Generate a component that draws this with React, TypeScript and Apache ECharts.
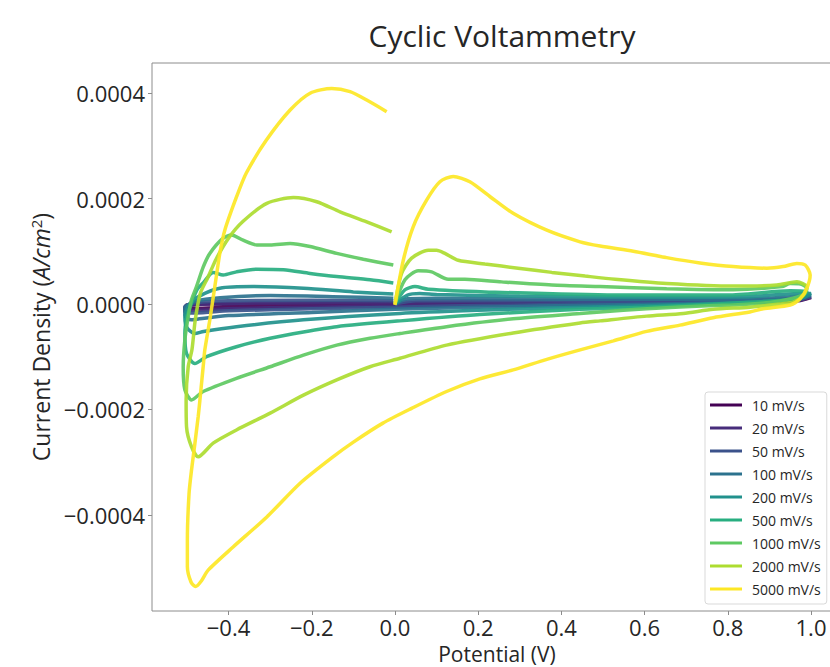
import React, { useEffect, useRef } from "react";
import * as echarts from "echarts";

// Scan-rate labels and colours (viridis)
const seriesNames = ["10 mV/s", "20 mV/s", "50 mV/s", "100 mV/s", "200 mV/s", "500 mV/s", "1000 mV/s", "2000 mV/s", "5000 mV/s"];
const seriesColors = ["#440154", "#472d7b", "#3b528b", "#2c728e", "#21918c", "#28ae80", "#5ec962", "#addc30", "#fde725"];

// Tick values
const xTicks = [-0.4, -0.2, 0.0, 0.2, 0.4, 0.6, 0.8, 1.0];
const yTicks = [-0.0004, -0.0002, 0.0, 0.0002, 0.0004];

// Current values are in units of 1e-4 A/cm^2; [potential V, current]
const UNIT = 1e-4;

const cv10 = [[0, 0], [0.05, 0.01], [0.4, 0.02], [0.8, 0.05], [0.95, 0.08], [1.0, 0.12], [0.97, 0.06], [0.8, 0.03], [0.5, 0.0], [0.2, -0.01], [0, -0.02], [-0.2, -0.04], [-0.4, -0.06], [-0.48, -0.08], [-0.505, -0.07], [-0.5, -0.02], [-0.45, 0.0], [-0.3, 0.0], [-0.004, 0.01]];
const cv20 = [[0, 0], [0.05, 0.03], [0.4, 0.04], [0.8, 0.06], [0.95, 0.09], [1.0, 0.13], [0.97, 0.07], [0.8, 0.03], [0.5, 0.0], [0.2, -0.02], [0, -0.04], [-0.2, -0.06], [-0.4, -0.09], [-0.48, -0.12], [-0.505, -0.1], [-0.5, -0.03], [-0.45, 0.0], [-0.3, 0.02], [-0.004, 0.03]];
const cv50 = [[0, 0], [0.05, 0.06], [0.4, 0.06], [0.8, 0.07], [0.95, 0.1], [1.0, 0.14], [0.97, 0.08], [0.8, 0.03], [0.5, 0.0], [0.2, -0.03], [0, -0.06], [-0.2, -0.09], [-0.4, -0.13], [-0.48, -0.17], [-0.505, -0.15], [-0.505, -0.05], [-0.48, 0.02], [-0.4, 0.06], [-0.2, 0.07], [-0.004, 0.06]];
const cv100 = [[0, 0], [0.03, 0.1], [0.1, 0.11], [0.4, 0.09], [0.7, 0.09], [0.9, 0.11], [1.0, 0.17], [0.97, 0.1], [0.8, 0.03], [0.5, -0.02], [0.2, -0.06], [0.0, -0.1], [-0.2, -0.16], [-0.4, -0.22], [-0.47, -0.28], [-0.49, -0.3], [-0.505, -0.22], [-0.505, -0.08], [-0.48, 0.05], [-0.42, 0.12], [-0.3, 0.16], [-0.15, 0.14], [-0.004, 0.11]];
const cv200 = [[0, 0], [0.03, 0.17], [0.06, 0.2], [0.1, 0.18], [0.3, 0.15], [0.6, 0.13], [0.85, 0.14], [0.97, 0.2], [1.0, 0.2], [0.98, 0.12], [0.9, 0.05], [0.7, -0.01], [0.4, -0.07], [0.2, -0.12], [0.012, -0.18], [-0.22, -0.3], [-0.381, -0.43], [-0.46, -0.52], [-0.481, -0.56], [-0.5, -0.45], [-0.505, -0.25], [-0.495, -0.02], [-0.47, 0.15], [-0.421, 0.3], [-0.341, 0.33], [-0.22, 0.3], [-0.1, 0.23], [-0.004, 0.19]];
const cv500 = [[0, 0], [0.024, 0.27], [0.048, 0.33], [0.08, 0.28], [0.216, 0.23], [0.529, 0.17], [0.8, 0.17], [0.95, 0.25], [0.99, 0.24], [0.98, 0.15], [0.95, 0.08], [0.765, 0.0], [0.6, -0.06], [0.445, -0.1], [0.204, -0.2], [0.012, -0.32], [-0.14, -0.43], [-0.22, -0.53], [-0.3, -0.65], [-0.381, -0.81], [-0.453, -1.0], [-0.481, -1.13], [-0.501, -0.94], [-0.505, -0.56], [-0.5, -0.24], [-0.49, 0.0], [-0.475, 0.28], [-0.461, 0.4], [-0.437, 0.6], [-0.413, 0.55], [-0.381, 0.61], [-0.332, 0.66], [-0.268, 0.65], [-0.204, 0.58], [-0.14, 0.52], [-0.06, 0.46], [-0.004, 0.4]];
const cv1000 = [[0, 0], [0.024, 0.46], [0.056, 0.63], [0.088, 0.61], [0.128, 0.47], [0.168, 0.47], [0.256, 0.42], [0.377, 0.36], [0.493, 0.33], [0.653, 0.29], [0.813, 0.27], [0.93, 0.33], [0.95, 0.39], [0.975, 0.38], [0.99, 0.3], [0.985, 0.2], [0.957, 0.11], [0.9, 0.03], [0.813, -0.02], [0.765, -0.03], [0.605, -0.09], [0.493, -0.15], [0.445, -0.18], [0.284, -0.28], [0.124, -0.43], [0.012, -0.56], [-0.06, -0.65], [-0.14, -0.78], [-0.22, -0.97], [-0.3, -1.19], [-0.381, -1.41], [-0.461, -1.66], [-0.489, -1.82], [-0.505, -1.63], [-0.509, -1.19], [-0.505, -0.68], [-0.497, -0.24], [-0.489, 0.08], [-0.477, 0.33], [-0.461, 0.7], [-0.445, 0.96], [-0.413, 1.25], [-0.393, 1.31], [-0.365, 1.21], [-0.332, 1.12], [-0.3, 1.12], [-0.252, 1.15], [-0.204, 1.09], [-0.14, 0.96], [-0.076, 0.85], [-0.004, 0.74]];
const cv2000 = [[0, 0], [0.016, 0.58], [0.04, 0.87], [0.08, 1.02], [0.1, 1.02], [0.12, 0.96], [0.152, 0.83], [0.216, 0.76], [0.296, 0.68], [0.377, 0.6], [0.457, 0.53], [0.529, 0.47], [0.653, 0.39], [0.813, 0.34], [0.918, 0.36], [0.966, 0.42], [0.99, 0.33], [0.982, 0.17], [0.958, 0.04], [0.925, 0.0], [0.853, -0.06], [0.765, -0.1], [0.693, -0.18], [0.605, -0.23], [0.493, -0.32], [0.445, -0.36], [0.284, -0.55], [0.124, -0.78], [0.012, -1.03], [-0.06, -1.19], [-0.14, -1.44], [-0.22, -1.73], [-0.3, -2.07], [-0.381, -2.39], [-0.437, -2.64], [-0.473, -2.9], [-0.489, -2.71], [-0.501, -2.33], [-0.502, -1.82], [-0.497, -1.19], [-0.488, -0.87], [-0.48, -0.3], [-0.468, 0.2], [-0.45, 0.5], [-0.43, 0.85], [-0.4, 1.25], [-0.365, 1.57], [-0.308, 1.91], [-0.244, 2.02], [-0.188, 1.94], [-0.132, 1.75], [-0.068, 1.56], [-0.008, 1.37]];
const cv5000 = [[0, -0.02], [0.02, 0.83], [0.044, 1.47], [0.076, 1.97], [0.108, 2.32], [0.14, 2.42], [0.18, 2.32], [0.228, 2.04], [0.284, 1.72], [0.365, 1.4], [0.445, 1.18], [0.493, 1.1], [0.573, 1.0], [0.653, 0.88], [0.733, 0.78], [0.813, 0.71], [0.894, 0.68], [0.933, 0.71], [0.966, 0.77], [0.986, 0.74], [0.998, 0.55], [0.99, 0.3], [0.974, 0.1], [0.95, -0.02], [0.885, -0.09], [0.853, -0.15], [0.765, -0.26], [0.685, -0.4], [0.605, -0.52], [0.525, -0.7], [0.445, -0.87], [0.365, -1.05], [0.284, -1.25], [0.204, -1.42], [0.124, -1.66], [0.04, -1.98], [-0.029, -2.26], [-0.1, -2.62], [-0.149, -2.9], [-0.228, -3.4], [-0.308, -4.04], [-0.389, -4.61], [-0.449, -5.05], [-0.465, -5.25], [-0.479, -5.36], [-0.49, -5.28], [-0.499, -4.98], [-0.499, -4.5], [-0.495, -3.6], [-0.489, -3.15], [-0.473, -2.14], [-0.461, -1.19], [-0.457, -0.87], [-0.445, -0.3], [-0.433, 0.33], [-0.421, 0.96], [-0.409, 1.4], [-0.38, 2.05], [-0.357, 2.49], [-0.309, 3.11], [-0.252, 3.68], [-0.204, 4.0], [-0.152, 4.09], [-0.108, 4.03], [-0.068, 3.87], [-0.02, 3.65]];

const curves = [cv10, cv20, cv50, cv100, cv200, cv500, cv1000, cv2000, cv5000];

const FONT = "'Open Sans', 'DejaVu Sans', sans-serif";
const TEXT = "#262626";
const SPINE = "#8c8c8c";

const fmt = (v: number, d: number) => {
  const s = Math.abs(v).toFixed(d);
  return v < -1e-12 ? "\u2212" + s : s;
};

export default function App() {
  const ref = useRef<HTMLDivElement>(null);
  useEffect(() => {
    if (!ref.current) return;
    const chart = echarts.init(ref.current, undefined, { renderer: "svg" });
    chart.setOption({
      animation: false,
      backgroundColor: "#ffffff",
      title: {
        text: "Cyclic Voltammetry",
        left: 497,
        top: 15,
        textAlign: "center",
        textStyle: { fontFamily: FONT, fontSize: 30, fontWeight: "normal", color: TEXT },
      },
      grid: {
        left: 152,
        top: 63,
        width: 690,
        height: 548,
        outerBoundsMode: "none",
        containLabel: false,
        show: true,
        borderColor: SPINE,
        borderWidth: 1,
        backgroundColor: "transparent",
      },
      legend: {
        orient: "vertical",
        left: 705,
        top: 392,
        data: seriesNames,
        icon: "rect",
        itemWidth: 32,
        itemHeight: 3,
        itemGap: 7,
        padding: [5, 6, 7, 5],
        borderColor: "#d9d9d9",
        borderWidth: 1,
        borderRadius: 3,
        backgroundColor: "rgba(255,255,255,0.85)",
        textStyle: { fontFamily: FONT, fontSize: 14, color: TEXT, lineHeight: 16, padding: [0, 0, 0, 5] },
      },
      xAxis: {
        type: "value",
        min: -0.584,
        max: 1.0745,
        name: "Potential (V)",
        nameLocation: "middle",
        nameGap: 26,
        nameTextStyle: { fontFamily: FONT, fontSize: 21, color: TEXT, lineHeight: 22 },
        axisLine: { show: false, onZero: false },
        splitLine: { show: false },
        axisTick: { show: true, length: 4, customValues: xTicks, lineStyle: { color: SPINE } },
        axisLabel: {
          customValues: xTicks,
          formatter: (v: number) => fmt(v, 1),
          fontFamily: FONT,
          fontSize: 22,
          lineHeight: 22,
          color: TEXT,
          margin: 5,
        },
      },
      yAxis: {
        type: "value",
        min: -5.825 * UNIT,
        max: 4.573 * UNIT,
        name: "Current Density ({i|A/cm}{s|2})",
        nameLocation: "middle",
        nameRotate: 90,
        nameGap: 97,
        nameTextStyle: {
          fontFamily: FONT,
          fontSize: 23,
          color: TEXT,
          rich: {
            i: { fontFamily: FONT, fontSize: 23, fontStyle: "italic", color: TEXT },
            s: { fontFamily: FONT, fontSize: 15, color: TEXT, verticalAlign: "top", padding: [0, 0, 10, 0] },
          },
        },
        axisLine: { show: false, onZero: false },
        splitLine: { show: false },
        axisTick: { show: true, length: 4, customValues: yTicks, lineStyle: { color: SPINE } },
        axisLabel: {
          customValues: yTicks,
          formatter: (v: number) => fmt(v, 4),
          fontFamily: FONT,
          fontSize: 22,
          color: TEXT,
          margin: 7,
        },
      },
      series: curves.map((c, k) => ({
        name: seriesNames[k],
        type: "line",
        data: c.map(([v, i]) => [v, i * UNIT]),
        showSymbol: false,
        symbol: "none",
        smooth: 0.25,
        color: seriesColors[k],
        lineStyle: { width: 3.5, color: seriesColors[k], opacity: 0.92 },
        z: 2 + k,
      })),
    });
    return () => chart.dispose();
  }, []);
  return <div ref={ref} style={{ position: "fixed", left: 0, top: 0, width: 830, height: 667 }} />;
}
